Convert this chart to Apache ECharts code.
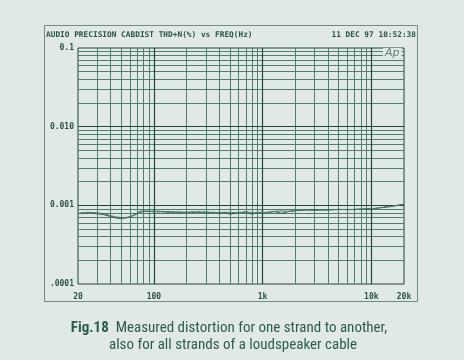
<!DOCTYPE html>
<html>
<head>
<meta charset="utf-8">
<script src="https://cdn.jsdelivr.net/npm/echarts@6.0.0/dist/echarts.min.js"></script>
<style>
  html, body { margin: 0; padding: 0; background: #e1e9e5; }
  #chart { width: 464px; height: 360px; }
</style>
</head>
<body>
<div id="chart"></div>
<script>
// ---- data ----
var freqs = [20, 22, 24, 26, 28, 30, 33, 36, 40, 45, 50, 55, 60, 65, 70, 75, 80, 90, 100, 110, 120, 135, 150, 170, 200, 230, 260, 300, 350, 400, 450, 500, 600, 700, 800, 900, 1000, 1100, 1300, 1500, 1700, 2000, 2500, 3000, 4000, 5000, 6000, 7000, 8000, 9000, 10000, 11000, 12000, 13000, 14000, 15000, 16000, 17000, 18000, 20000];
// THD+N (%) for strand A and strand B
var thdA = [0.00078, 0.00081, 0.00079, 0.00082, 0.00079, 0.00078, 0.00077, 0.00075, 0.00072, 0.00069, 0.00068, 0.00069, 0.00071, 0.00075, 0.00080, 0.00084, 0.00085, 0.00083, 0.00085, 0.00082, 0.00084, 0.00081, 0.00083, 0.00080, 0.00082, 0.00081, 0.00083, 0.00080, 0.00082, 0.00079, 0.00082, 0.00077, 0.00081, 0.00082, 0.00077, 0.00082, 0.00078, 0.00082, 0.00083, 0.00079, 0.00083, 0.00086, 0.00087, 0.00088, 0.00087, 0.00089, 0.00088, 0.00089, 0.00090, 0.00089, 0.00090, 0.00092, 0.00093, 0.00094, 0.00095, 0.00096, 0.00098, 0.00099, 0.00101, 0.00103];
var thdB = [0.00080, 0.00078, 0.00082, 0.00079, 0.00081, 0.00080, 0.00079, 0.00077, 0.00074, 0.00071, 0.00070, 0.00070, 0.00072, 0.00074, 0.00078, 0.00081, 0.00083, 0.00085, 0.00082, 0.00085, 0.00082, 0.00084, 0.00081, 0.00083, 0.00081, 0.00083, 0.00081, 0.00083, 0.00080, 0.00082, 0.00080, 0.00082, 0.00080, 0.00083, 0.00081, 0.00080, 0.00083, 0.00080, 0.00084, 0.00085, 0.00084, 0.00085, 0.00088, 0.00086, 0.00088, 0.00088, 0.00089, 0.00088, 0.00089, 0.00091, 0.00091, 0.00091, 0.00093, 0.00095, 0.00097, 0.00097, 0.00098, 0.00100, 0.00100, 0.00104];
var xTickValues = [20, 100, 1000, 10000, 20000];
var xTickLabels = ['20', '100', '1k', '10k', '20k'];
var yTickValues = [0.0001, 0.001, 0.01, 0.1];
var yTickLabels = ['.0001', '0.001', '0.010', '0.1'];
var xDecades = [10, 100, 1000, 10000];
var yDecades = [0.0001, 0.001, 0.01];
var titleText = 'AUDIO PRECISION CABDIST THD+N(%) vs FREQ(Hz)';
var dateText = '11 DEC 97 10:52:38';
var captionBold = 'Fig.18';
var captionLine1 = 'Measured distortion for one strand to another,';
var captionLine2 = 'also for all strands of a loudspeaker cable';

var X_MIN = 20, X_MAX = 20000, Y_MIN = 0.0001, Y_MAX = 0.1;

// ---- build grid line lists (log grid 1..9 per decade) ----
var minorLines = [], majorLines = [];
xDecades.forEach(function (d) {
  for (var k = 1; k <= 9; k++) {
    var v = Math.round(d * k);
    if (v <= X_MIN || v >= X_MAX) continue;
    (k === 1 ? majorLines : minorLines).push({ coords: [[v, Y_MIN], [v, Y_MAX]] });
  }
});
yDecades.forEach(function (d) {
  for (var k = 1; k <= 9; k++) {
    var v = +(d * k).toPrecision(3);
    if (v <= Y_MIN || v >= Y_MAX) continue;
    (k === 1 ? majorLines : minorLines).push({ coords: [[X_MIN, v], [X_MAX, v]] });
  }
});

function pairs(xs, ys) {
  var out = [];
  for (var i = 0; i < xs.length; i++) out.push([xs[i], ys[i]]);
  return out;
}
function labelFor(values, labels) {
  return function (v) {
    for (var i = 0; i < values.length; i++) {
      if (Math.abs(Math.log10(v) - Math.log10(values[i])) < 0.01) return labels[i];
    }
    return '';
  };
}

var INK = '#2b5344';
var MINOR = '#4f7e6c';
var MAJOR = '#1f4536';
var MONO = '"DejaVu Sans Mono", "Liberation Mono", monospace';
var CAPFONT = '"Roboto Condensed", "Liberation Sans Narrow", "Noto Sans", sans-serif';

var chart = echarts.init(document.getElementById('chart'), null, { renderer: 'canvas' });
chart.setOption({
  backgroundColor: '#e1e9e5',
  animation: false,
  grid: { left: 78, right: 60, top: 48, bottom: 76, show: true, borderColor: MAJOR, borderWidth: 1 },
  xAxis: {
    type: 'log', logBase: 10, min: X_MIN, max: X_MAX,
    axisLine: { show: false },
    axisTick: { show: false },
    splitLine: { show: false },
    axisLabel: {
      show: true, interval: 0, showMinLabel: true, showMaxLabel: true,
      color: INK, fontFamily: MONO, fontWeight: 'bold', fontSize: 8, margin: 9,
      formatter: labelFor(xTickValues, xTickLabels)
    }
  },
  yAxis: {
    type: 'log', logBase: 10, min: Y_MIN, max: Y_MAX,
    axisLine: { show: false },
    axisTick: { show: false },
    splitLine: { show: false },
    axisLabel: {
      show: true, interval: 0, showMinLabel: true, showMaxLabel: true,
      color: INK, fontFamily: MONO, fontWeight: 'bold', fontSize: 8, margin: 4,
      formatter: labelFor(yTickValues, yTickLabels)
    }
  },
  title: [
    { text: titleText, left: 46, top: 31, padding: 0, textStyle: { color: INK, fontFamily: MONO, fontWeight: 'bold', fontSize: 7.8 } },
    { text: dateText, right: 48, top: 31, padding: 0, textStyle: { color: INK, fontFamily: MONO, fontWeight: 'bold', fontSize: 7.8 } }
  ],
  graphic: [
    { type: 'rect', shape: { x: 44.5, y: 25.5, width: 373, height: 276 }, style: { fill: null, stroke: '#6e8d80', lineWidth: 1 }, z: 0, silent: true },
    { type: 'text', x: 383, y: 48, z: 100, silent: true,
      style: { text: 'Ap', fill: '#5f8273', font: 'italic 11px "DejaVu Sans", sans-serif', backgroundColor: '#e1e9e5', padding: [0, 2, 0, 2] } },
    { type: 'text', x: 229, y: 321, silent: true,
      style: {
        text: '{b|' + captionBold + '}  ' + captionLine1,
        align: 'center', fill: '#2b5d4d',
        font: '15px ' + CAPFONT,
        rich: { b: { font: 'bold 15px ' + CAPFONT, fill: '#2b5d4d' } }
      } },
    { type: 'text', x: 233, y: 338, silent: true,
      style: {
        text: captionLine2, align: 'center', fill: '#2b5d4d',
        font: '15px ' + CAPFONT
      } }
  ],
  series: [
    { name: 'minorGrid', type: 'lines', coordinateSystem: 'cartesian2d', polyline: false, silent: true, z: 1,
      lineStyle: { color: MINOR, width: 1, opacity: 1 }, data: minorLines },
    { name: 'majorGrid', type: 'lines', coordinateSystem: 'cartesian2d', polyline: false, silent: true, z: 2,
      lineStyle: { color: MAJOR, width: 1.2, opacity: 1 }, data: majorLines },
    { name: 'A', type: 'line', data: pairs(freqs, thdA), symbol: 'none', z: 5, silent: true,
      lineStyle: { color: '#2f5a4a', width: 1 } },
    { name: 'B', type: 'line', data: pairs(freqs, thdB), symbol: 'none', z: 5, silent: true,
      lineStyle: { color: '#4d7868', width: 1 } }
  ]
});
</script>
</body>
</html>
